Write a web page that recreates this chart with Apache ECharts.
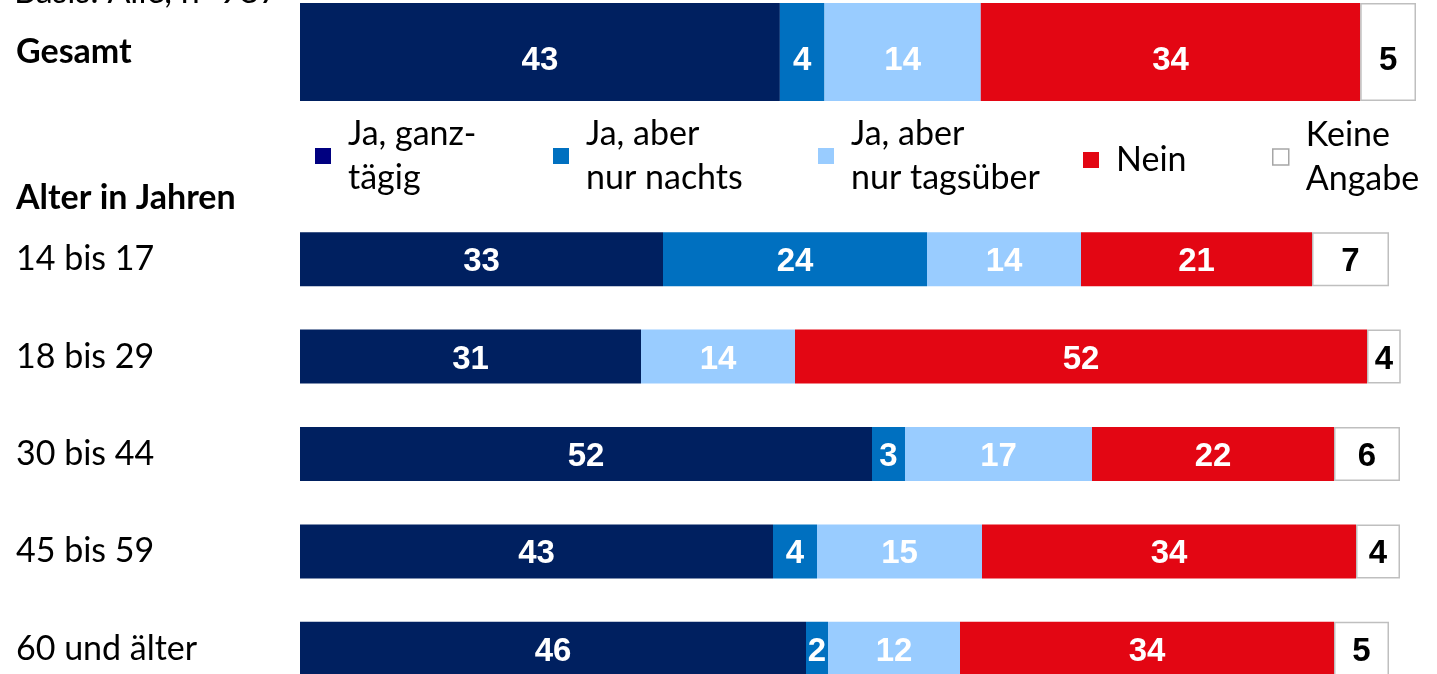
<!DOCTYPE html>
<html>
<head>
<meta charset="utf-8">
<script src="https://cdn.jsdelivr.net/npm/echarts@6/dist/echarts.min.js"></script>
<style>
html,body{margin:0;padding:0;background:#fff;}
#chart{width:1437px;height:674px;}
</style>
</head>
<body>
<div id="chart"></div>
<script>
// ---- data ----
const totalCategory = ['Gesamt'];
const ageCategories = ['14 bis 17', '18 bis 29', '30 bis 44', '45 bis 59', '60 und älter'];
const seriesNames = ['Ja, ganztägig', 'Ja, aber nur nachts', 'Ja, aber nur tagsüber', 'Nein', 'Keine Angabe'];
const legendLabels = ['Ja, ganz-\ntägig', 'Ja, aber\nnur nachts', 'Ja, aber\nnur tagsüber', 'Nein', 'Keine\nAngabe'];
const totalGanztaegig = [43];
const totalNachts = [4];
const totalTagsueber = [14];
const totalNein = [34];
const totalKeine = [5];
const ageGanztaegig = [33, 31, 52, 43, 46];
const ageNachts = [24, 0, 3, 4, 2];
const ageTagsueber = [14, 14, 17, 15, 12];
const ageNein = [21, 52, 22, 34, 34];
const ageKeine = [7, 4, 6, 4, 5];
const baseNote = 'Basis: Alle, n=987';
const groupHeading = 'Alter in Jahren';

// ---- styles ----
const barColors = ['#002060', '#0070C0', '#99CCFF', '#E30613', '#FFFFFF'];
const legendColors = ['#000080', '#0070C0', '#99CCFF', '#E30613', '#FFFFFF'];
const labelColors = ['#FFFFFF', '#FFFFFF', '#FFFFFF', '#FFFFFF', '#000000'];
const textFont = 'Lato, "Open Sans", sans-serif';
const numFont = '"Liberation Sans", Arial, sans-serif';

const totalData = [totalGanztaegig, totalNachts, totalTagsueber, totalNein, totalKeine];
const ageData = [ageGanztaegig, ageNachts, ageTagsueber, ageNein, ageKeine];

function makeSeries(idx, data, axisIndex, barWidth, labelOffsetY) {
  return {
    name: seriesNames[idx],
    type: 'bar',
    stack: 'g' + axisIndex,
    xAxisIndex: axisIndex,
    yAxisIndex: axisIndex,
    barWidth: barWidth,
    data: data,
    itemStyle: {
      color: barColors[idx],
      borderColor: idx === 4 ? '#BFBFBF' : barColors[idx],
      borderWidth: idx === 4 ? 1.5 : 0
    },
    label: {
      show: true,
      position: 'inside',
      offset: [0, labelOffsetY],
      color: labelColors[idx],
      fontFamily: numFont,
      fontWeight: 'bold',
      fontSize: 33,
      formatter: p => (p.value ? String(p.value) : '')
    },
    emphasis: { disabled: true },
    animation: false
  };
}

const series = [];
totalData.forEach((d, i) => series.push(makeSeries(i, d, 0, 98, 9)));
ageData.forEach((d, i) => series.push(makeSeries(i, d, 1, 54, 3)));

const legendPos = [
  { left: 315, top: 112 },
  { left: 553, top: 112 },
  { left: 818, top: 112 },
  { left: 1083, top: 138 },
  { left: 1272, top: 113 }
];
const legends = seriesNames.map((n, i) => ({
  left: legendPos[i].left,
  top: legendPos[i].top,
  padding: 0,
  orient: 'horizontal',
  selectedMode: false,
  icon: 'rect',
  itemWidth: 16,
  itemHeight: 16,
  data: [{ name: n, itemStyle: { color: legendColors[i], borderColor: i === 4 ? '#A6A6A6' : legendColors[i], borderWidth: i === 4 ? 1.5 : 0 } }],
  formatter: () => legendLabels[i],
  textStyle: {
    fontFamily: textFont,
    fontSize: 34,
    lineHeight: 44,
    color: '#000',
    padding: [0, 0, 0, 12]
  }
}));

const yLabel = (bold, padTop) => ({
  show: true,
  align: 'left',
  margin: 284,
  padding: [padTop, 0, 0, 0],
  fontFamily: textFont,
  fontSize: 34,
  fontWeight: bold ? 'bold' : 'normal',
  color: '#000'
});

const option = {
  backgroundColor: '#fff',
  animation: false,
  grid: [
    { left: 300, top: 3, width: 1116, height: 98, outerBoundsMode: 'none', containLabel: false },
    { left: 300, top: 210.5, width: 1100, height: 487, outerBoundsMode: 'none', containLabel: false }
  ],
  xAxis: [
    { gridIndex: 0, type: 'value', min: 0, max: 100, show: false },
    { gridIndex: 1, type: 'value', min: 0, max: 100, show: false }
  ],
  yAxis: [
    { gridIndex: 0, type: 'category', data: totalCategory, inverse: true,
      axisLine: { show: false }, axisTick: { show: false }, axisLabel: yLabel(true, 12) },
    { gridIndex: 1, type: 'category', data: ageCategories, inverse: true,
      axisLine: { show: false }, axisTick: { show: false }, axisLabel: yLabel(false, 6) }
  ],
  legend: legends,
  graphic: [
    { type: 'text', left: 14, top: -25, style: { text: baseNote, font: '34px ' + textFont, fill: '#000' } },
    { type: 'text', left: 16, top: 181, style: { text: groupHeading, font: 'bold 34px ' + textFont, fill: '#000' } }
  ],
  series: series
};

const chart = echarts.init(document.getElementById('chart'), null, { renderer: 'canvas' });
chart.setOption(option);
</script>
</body>
</html>
